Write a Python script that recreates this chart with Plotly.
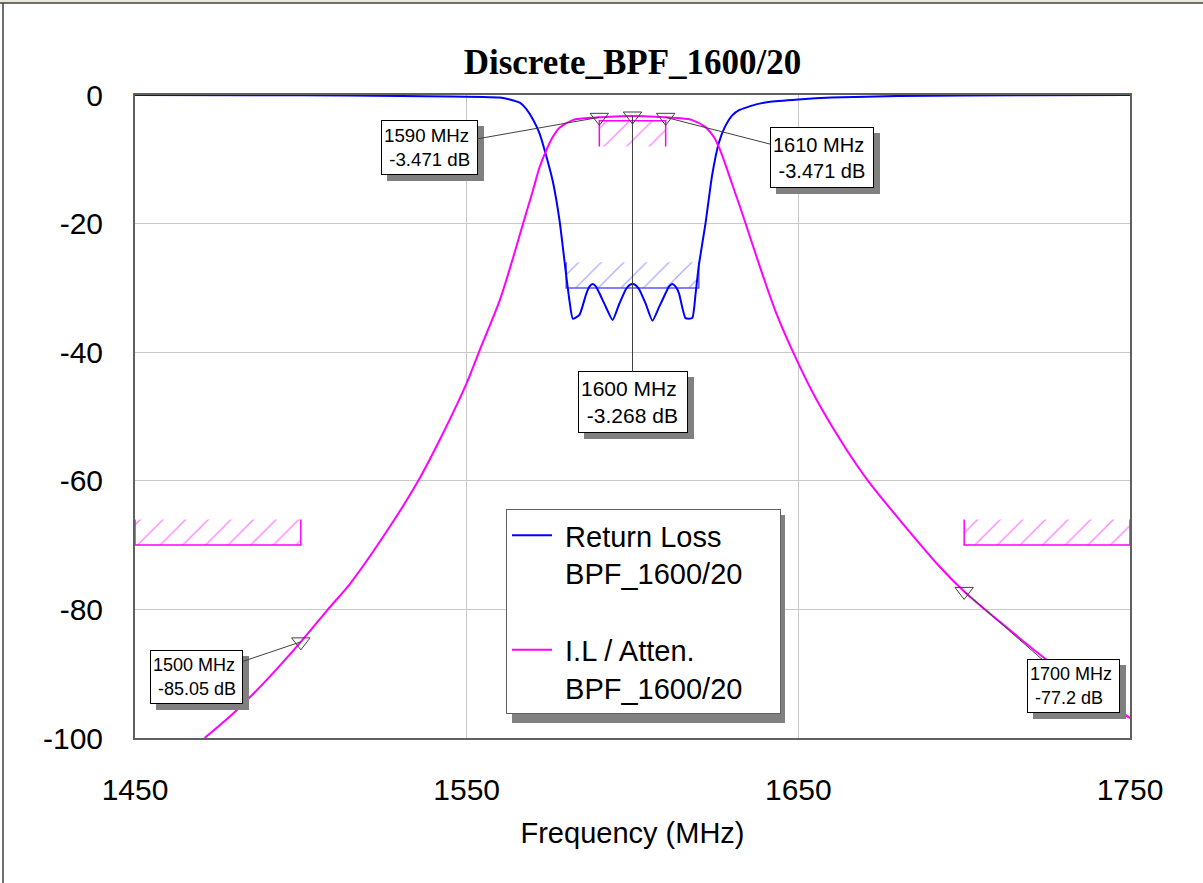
import plotly.graph_objects as go

# ---------------- data ----------------
rl_freq = [1450, 1500, 1530, 1545, 1555, 1560, 1563, 1566, 1568, 1570, 1572, 1574, 1576, 1578, 1580,
           1581, 1582, 1584, 1586, 1587, 1588, 1589, 1590, 1592, 1594, 1596, 1598, 1599, 1600, 1601,
           1602, 1604, 1606, 1608, 1610, 1611, 1612, 1613, 1614, 1616, 1618, 1619, 1620, 1622,
           1624, 1626, 1628, 1630, 1632, 1637, 1641, 1650, 1660, 1680, 1720, 1750]
rl_db = [0, -0.05, -0.15, -0.25, -0.3, -0.4, -0.7, -1.2, -2.2, -3.8, -6, -9.5, -13.5, -19.5, -28,
         -32, -34.8, -34.2, -31, -29.8, -29.4, -29.8, -30.8, -33, -35, -32.5, -30.2, -29.6, -29.4,
         -29.6, -30.2, -32.5, -35.1, -33, -30.8, -29.8, -29.4, -29.8, -30.8, -34.7, -34.7, -31,
         -26.5, -20, -12.5, -7.5, -4.8, -3.2, -2.4, -1.5, -1.1, -0.7, -0.4, -0.15, -0.05, 0]

il_freq = [1471, 1480, 1490, 1500, 1508, 1515, 1527, 1535.4, 1542, 1550, 1554, 1560, 1564, 1567,
           1570, 1572, 1574, 1576, 1578, 1582, 1586, 1590, 1595, 1600, 1605, 1610, 1614, 1618,
           1622, 1624.5, 1626.4, 1630, 1633.4, 1638.4, 1643.4, 1649.5, 1655.5, 1664.6, 1671.6,
           1680.6, 1692.7, 1700, 1710, 1723.8, 1737, 1750]
il_db = [-100, -96.0, -90.8, -85.05, -80.1, -75.9, -67.0, -60.0, -53.5, -44.8, -39.6, -31.9, -25.3,
         -20, -14.8, -11.2, -8.6, -6.5, -5.1, -3.9, -3.6, -3.471, -3.33, -3.268, -3.33, -3.471,
         -3.6, -3.9, -5.0, -6.5, -8.55, -13.8, -18.9, -26.7, -34.0, -41.2, -47.4, -55.2, -60.4,
         -66.1, -73.4, -77.2, -81.6, -87.4, -92.2, -96.9]

marker_freq = [1500, 1590, 1600, 1610, 1700]
marker_db = [-85.05, -3.471, -3.268, -3.471, -77.2]
marker_text = ["1500 MHz<br>\u00a0-85.05 dB", "1590 MHz<br>\u00a0-3.471 dB",
               "1600 MHz<br>\u00a0-3.268 dB", "1610 MHz<br>\u00a0-3.471 dB",
               "1700 MHz<br>\u00a0-77.2 dB"]

# spec masks: (f_start, f_stop, limit, hatch edge)
il_pass_spec = (1590, 1610, -4, -8)
rl_spec = (1580, 1620, -30, -26)
stop_lo_spec = (1450, 1500, -70, -66)
stop_hi_spec = (1700, 1750, -70, -66)

x_ticks = [1450, 1550, 1650, 1750]
x_ticktext = ["1450", "1550", "1650", "1750"]
y_ticks = [-100, -80, -60, -40, -20, 0]
y_ticktext = ["-100", "-80", "-60", "-40", "-20", "0"]

BLUE = "#0000ff"
MAG = "#ff00ff"
FONT = "Arial, Liberation Sans"
SP = "\u00a0"
PAD = SP * 4

fig = go.Figure()


def add_spec(spec, color, hatch_color):
    f1, f2, lim, edge = spec
    fig.add_trace(go.Scatter(
        x=[f1, f2, f2, f1, f1], y=[lim, lim, edge, edge, lim], mode="lines",
        fill="toself", fillcolor="rgba(0,0,0,0)", line=dict(width=0),
        fillpattern=dict(shape="/", fgcolor=hatch_color, bgcolor="rgba(0,0,0,0)",
                         size=16, solidity=0.08),
        hoverinfo="skip", showlegend=False))
    fig.add_trace(go.Scatter(
        x=[f1, f1, f2, f2], y=[edge, lim, lim, edge], mode="lines",
        line=dict(color=color, width=1.5), hoverinfo="skip", showlegend=False))


add_spec(stop_lo_spec, MAG, MAG)
add_spec(stop_hi_spec, MAG, MAG)
add_spec(il_pass_spec, MAG, MAG)
add_spec(rl_spec, "#5a5aff", "#5a5aff")

fig.add_trace(go.Scatter(x=rl_freq, y=rl_db, mode="lines",
                         name=SP + "Return Loss<br>" + SP + "BPF_1600/20" + PAD, legendgroup="rl",
                         line=dict(color=BLUE, width=2, shape="spline", smoothing=0.5)))
fig.add_trace(go.Scatter(x=il_freq, y=il_db, mode="lines",
                         name=SP + "I.L / Atten.<br>" + SP + "BPF_1600/20" + PAD, legendgroup="il",
                         line=dict(color=MAG, width=2, shape="spline", smoothing=0.8)))
fig.add_trace(go.Scatter(x=marker_freq, y=marker_db, mode="markers", showlegend=False,
                         marker=dict(symbol="triangle-down-open", size=16,
                                     color="#404040", line=dict(width=1))))

# marker readout boxes: pixel offsets from the point, box size, font size
offsets = [(-104, 35), (-170, 30), (0, 286), (156, 40), (109, 95)]
box_w = [87, 91, 104, 98, 87]
box_h = [48, 49, 56, 55, 48]
box_font = [18, 18.7, 21, 20, 18]
ann = []
for f, d, t, (ax, ay), w, h, fs in zip(marker_freq, marker_db, marker_text, offsets,
                                       box_w, box_h, box_font):
    common = dict(x=f, y=d, xref="x", yref="y", ax=ax, ay=ay, align="left",
                  width=w, height=h, borderpad=2, showarrow=True, arrowhead=0,
                  borderwidth=1)
    ann.append(dict(common, text="\u00a0", xshift=6, yshift=-6, bgcolor="#808080",
                    bordercolor="#808080", font=dict(family=FONT, size=fs, color="#808080"),
                    arrowcolor="rgba(0,0,0,0)"))
    ann.append(dict(common, text=t, bgcolor="white", bordercolor="#000000",
                    font=dict(family=FONT, size=fs, color="black"),
                    arrowcolor="#404040", arrowwidth=1))

fig.update_layout(
    width=1203, height=883,
    margin=dict(l=135, r=73, t=95, b=145),
    paper_bgcolor="white", plot_bgcolor="white",
    title=dict(text="<b>Discrete_BPF_1600/20</b>", x=0.5, xref="paper", xanchor="center",
               y=1 - 62 / 883, yanchor="middle",
               font=dict(family="Liberation Serif, Times New Roman", size=35, color="black")),
    xaxis=dict(range=[1450, 1750], tickvals=x_ticks, ticktext=x_ticktext, showgrid=True,
               gridcolor="#c8c8c8", gridwidth=1, zeroline=False, showline=True,
               linecolor="#606060", linewidth=2, mirror=True, ticks="outside", ticklen=24,
               tickcolor="rgba(0,0,0,0)",
               tickfont=dict(family=FONT, size=30, color="black"),
               title=dict(text="Frequency (MHz)", standoff=18,
                          font=dict(family=FONT, size=29, color="black"))),
    yaxis=dict(range=[-100, 0], tickvals=y_ticks, ticktext=y_ticktext, showgrid=True,
               gridcolor="#c8c8c8", gridwidth=1, zeroline=False, showline=True,
               linecolor="#606060", linewidth=2, mirror=True, ticks="outside", ticklen=24,
               tickcolor="rgba(0,0,0,0)",
               tickfont=dict(family=FONT, size=30, color="black")),
    legend=dict(x=(506 - 135) / 995, y=(738 - 509) / 643, xanchor="left", yanchor="top",
                bgcolor="white", bordercolor="#606060", borderwidth=1,
                font=dict(family=FONT, size=29, color="black"),
                traceorder="grouped", tracegroupgap=36, valign="top",
                itemwidth=40),
    annotations=ann,
    shapes=[
        # legend shadow
        dict(type="rect", xref="paper", yref="paper", x0=(512 - 135) / 995,
             x1=(785 - 135) / 995, y0=(738 - 723) / 643, y1=(738 - 515) / 643,
             fillcolor="#808080", line=dict(width=0), layer="above"),
        # window frame
        dict(type="rect", xref="paper", yref="paper", x0=-0.14, x1=1.08,
             y0=(738 - 3) / 643, y1=(738 + 0) / 643 + 0.01, fillcolor="#ece9d8",
             line=dict(width=0), layer="above"),
        dict(type="line", xref="paper", yref="paper", x0=-0.14, x1=1.08,
             y0=(738 - 3) / 643, y1=(738 - 3) / 643, line=dict(color="#404040", width=1.5)),
        dict(type="line", xref="paper", yref="paper", x0=(3 - 135) / 995, x1=(3 - 135) / 995,
             y0=-0.3, y1=(738 - 3) / 643, line=dict(color="#404040", width=1.5)),
    ],
)

fig.write_html("out.html", config={"displayModeBar": False},
               post_script="document.body.style.margin='0';")
